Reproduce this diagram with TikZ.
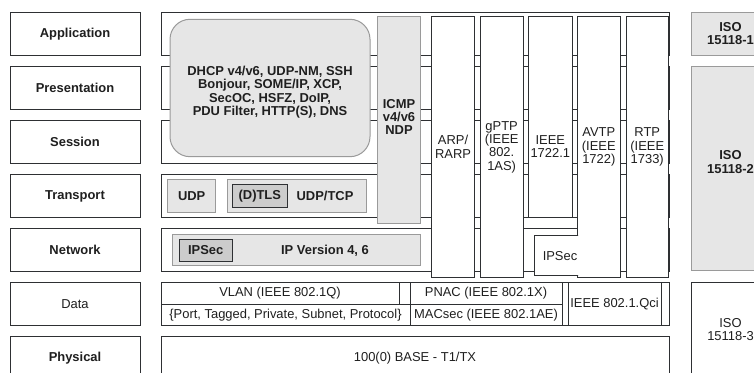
\documentclass[tikz,border=0pt]{standalone}
\usepackage{fontspec}
\setmainfont{Liberation Sans}
\definecolor{ink}{HTML}{1F1F1F}
\definecolor{edge}{HTML}{2E3033}
\definecolor{rim}{HTML}{9A9A9A}
\definecolor{shade}{HTML}{E6E6E6}
\definecolor{deep}{HTML}{CCCCCC}
\begin{document}
\begin{tikzpicture}[x=0.75pt,y=-0.75pt,
  every node/.style={font=\fontsize{9.7}{10}\selectfont, text=ink, align=center, inner sep=0pt, outer sep=0pt},
  bf/.style={font=\fontsize{9.7}{10}\selectfont\bfseries},
  rect/.style n args={4}{minimum width={(#3-#1)*0.75pt}, minimum height={(#4-#2)*0.75pt},
    at={({(#1+#3)/2},{(#2+#4)/2})}},
  box/.style={draw=edge, fill=white, line width=0.75pt},
  grey/.style={draw=rim, fill=shade, line width=0.75pt},
  dark/.style={draw=edge, fill=deep, line width=0.75pt},
  cloud/.style={draw=rim, fill=shade, line width=0.75pt, rounded corners=15pt},
]
\useasboundingbox (0,0) rectangle (754,373);

% OSI layer names
\node[box, bf, rect={10}{12.3}{140}{55.3}]   (lApp)  {Application};
\node[box, bf, rect={10}{66.4}{140}{109.4}]  (lPres) {Presentation};
\node[box, bf, rect={10}{120.5}{140}{163.5}] (lSess) {Session};
\node[box, bf, rect={10}{174.6}{140}{217.6}] (lTrans){Transport};
\node[box, bf, rect={10}{228.7}{140}{271.7}] (lNet)  {Network};
\node[box, rect={10}{282.8}{140}{325.8}]     (lData) {Data};
\node[box, bf, rect={10}{336.9}{140}{379.9}] (lPhys) {Physical};

% protocol rows
\node[box, rect={161}{12.3}{669}{55.3}]   (rApp)  {};
\node[box, rect={161}{66.4}{669}{109.4}]  (rPres) {};
\node[box, rect={161}{120.5}{669}{163.5}] (rSess) {};
\node[box, rect={161}{174.6}{669}{217.6}] (rTrans){};
\node[box, rect={161}{228.7}{669}{271.7}] (rNet)  {};
\node[box, rect={161}{282.8}{669}{325.8}] (rData) {};
\node[box, rect={161}{336.9}{669}{379.9}] (rPhys) {100(0) BASE - T1/TX};

% transport layer
\node[grey, bf, rect={167.7}{179.3}{215.7}{212.3}] (udp) {UDP};
\node[grey, rect={227.3}{179.3}{366.7}{212.3}] (udptcp) {};
\node[bf] (udptcpText) at (325,196.3) {UDP/TCP};
\node[dark, bf, rect={232.3}{185}{287.3}{208}] (dtls) {(D)TLS};

% network layer
\node[grey, rect={172.3}{234.3}{420.7}{266}] (ip) {};
\node[bf] (ipText) at (325,250.5) {IP Version 4, 6};
\node[dark, bf, rect={179.3}{239.3}{232}{261.7}] (ipsecA) {IPSec};

% data link layer
\node[box, rect={161}{282.8}{399}{304.3}] (vlan)  {VLAN (IEEE 802.1Q)};
\node[box, rect={161}{304.3}{410}{325.8}] (vtype) {\{Port, Tagged, Private, Subnet, Protocol\}};
\node[box, rect={410}{282.8}{562}{304.3}] (pnac)  {PNAC (IEEE 802.1X)};
\node[box, rect={410}{304.3}{562}{325.8}] (macsec){MACsec (IEEE 802.1AE)};
\node[box, rect={568}{282.8}{661}{325.8}] (qci)   {IEEE 802.1.Qci};

% upper layer protocols
\node[cloud, rect={170}{19.3}{370}{156.7}] (upper) {};
\node[bf] (upperText) at (270,92) {DHCP v4/v6, UDP-NM, SSH\\Bonjour, SOME/IP, XCP,\\SecOC, HSFZ, DoIP,\\PDU Filter, HTTP(S), DNS};

% vertical protocol columns
\node[grey, rect={377.3}{16.5}{420.7}{224}] (icmp) {};
\node[bf] (icmpText) at (399,117) {ICMP\\v4/v6\\NDP};
\node[box, rect={431.7}{16.5}{474.3}{277.3}] (arp)  {ARP/\\RARP};
\node[box, rect={480}{16.5}{523.3}{277.3}]   (gptp) {gPTP\\(IEEE\\802.\\1AS)};
\node[box, rect={528.7}{16.5}{572}{217.6}]   (ieee) {};
\node (ieeeText) at (550.3,146.5) {IEEE\\1722.1};
\node[box, rect={577.3}{16.5}{620.3}{277.3}] (avtp) {AVTP\\(IEEE\\1722)};
\node[box, rect={626}{16.5}{668.5}{277.3}]   (rtp)  {RTP\\(IEEE\\1733)};

% IPSec block tucked under the AVTP column
\begin{scope}
  \clip (530,230) rectangle (578,282);
  \node[box, rect={534}{236}{592}{276}] (ipsecB) {};
  \node (ipsecBText) at (560,256) {IPSec};
\end{scope}

% ISO 15118 parts
\node[grey, bf, rect={691}{12.3}{770}{55.3}] (iso1) {ISO\\15118-1};
\node[grey, rect={691}{66.7}{770}{270.7}] (iso2) {};
\node[bf] (iso2Text) at (730.5,162) {ISO\\15118-2};
\node[box, rect={691}{282.8}{770}{376}] (iso3) {ISO\\15118-3};
\end{tikzpicture}
\end{document}
